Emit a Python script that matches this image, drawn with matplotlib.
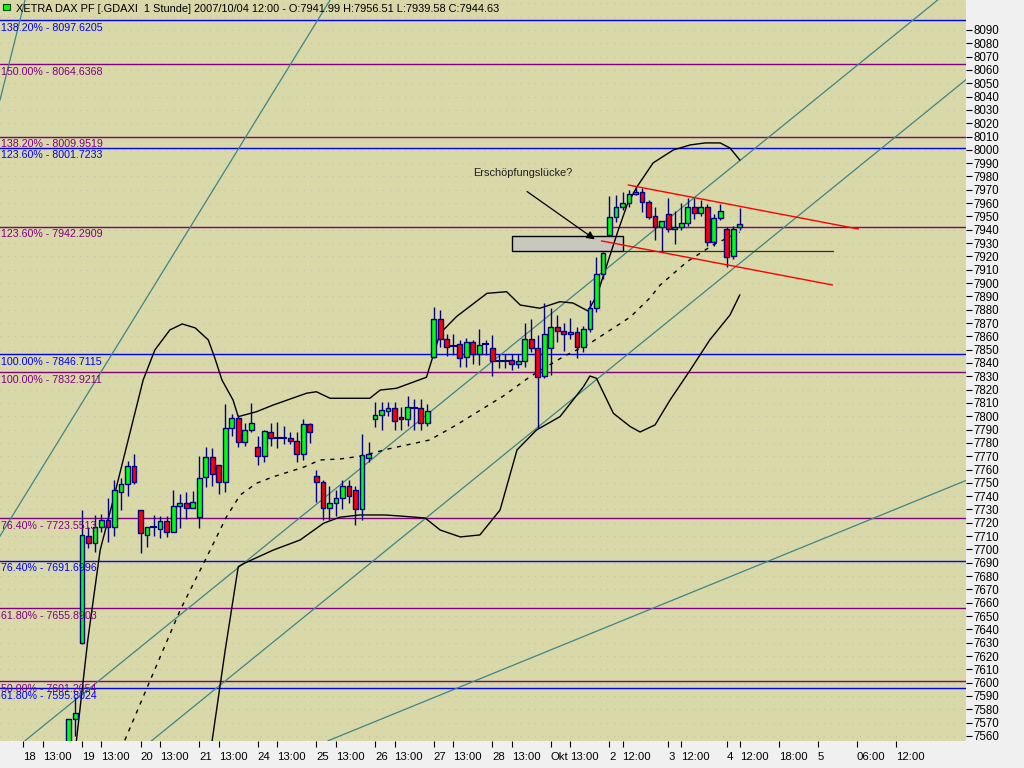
import matplotlib
matplotlib.use('Agg')
import matplotlib.pyplot as plt
from matplotlib.patches import Rectangle

plt.rcParams['font.family'] = ['Liberation Sans', 'DejaVu Sans']

# ---------------- data (bar index: 0 = 18 Sep 10:00, hourly bars, 9 per day) -------------
first_bar = 7
opens = [7545, 7572.5, 7630, 7710, 7705, 7716.6, 7722, 7716.6, 7743.4, 7748.9, 7762.6,
         7729.6, 7711.1, 7716.6, 7715.4, 7721, 7713.4, 7732.7, 7734.7, 7731,
         7724, 7754.2, 7769.6, 7763.4, 7751, 7791, 7798.5, 7781, 7790,
         7777.2, 7770, 7788.4, 7784, 7784, 7783.5, 7781.5, 7771.8, 7794,
         7755.4, 7750.4, 7731, 7735, 7739, 7748, 7745, 7730, 7769,
         7797.7, 7801, 7804.2, 7806, 7799.5, 7797.7, 7806, 7806, 7794.7,
         7844.3, 7872.8, 7857.8, 7852.8, 7854, 7844.3, 7855.5, 7846.5, 7854.3,
         7851, 7841.7, 7841.7, 7842.2, 7839.3, 7841.5, 7857.8, 7851, 7830.2,
         7851, 7866.8, 7864.3, 7861.5, 7863, 7851.8, 7865.3, 7881, 7906.6,
         7936.1, 7949.4, 7957.3, 7959.9, 7966.7, 7968.6, 7960.6, 7950.4, 7942.3,
         7951.9, 7940.6, 7942.3, 7945, 7956.9, 7952.4, 7956.9, 7930.6, 7948.6,
         7940.6, 7920.3, 7941.99]
highs = [7573, 7589, 7729.6, 7717, 7726, 7726.3, 7738.4, 7752.2, 7753.4, 7766.5, 7771.7,
         7729.6, 7717, 7726, 7724.8, 7724.8, 7744.6, 7742, 7743, 7744,
         7770, 7777, 7776, 7763.4, 7809, 7802, 7801, 7795, 7809.7,
         7785, 7790, 7794.6, 7795.6, 7793, 7788.5, 7788.5, 7797.7, 7795,
         7760, 7752, 7748, 7745, 7752, 7752, 7748, 7787, 7781,
         7811, 7811, 7811, 7811, 7807, 7815, 7813, 7813, 7809,
         7882.3, 7880, 7862, 7861.8, 7857, 7858.5, 7857.3, 7865.5, 7857,
         7861, 7847, 7847, 7847, 7847, 7870, 7873, 7861, 7885,
         7881, 7876, 7870, 7874, 7867, 7868, 7887, 7919.8, 7923.5,
         7965.4, 7966, 7968, 7970, 7971, 7971, 7962, 7957.3, 7946.6,
         7963.6, 7954, 7960, 7963.6, 7963.6, 7962, 7959, 7952, 7959.5,
         7942, 7943, 7956.51]
lows = [7540, 7560, 7629, 7701, 7698, 7713, 7705.4, 7710, 7729.6, 7740.5, 7749,
        7697, 7702, 7710, 7708.8, 7709, 7713.4, 7716, 7723, 7731,
        7716, 7747, 7748, 7742, 7743.4, 7785, 7776.6, 7778, 7788.4,
        7763.5, 7766, 7778, 7776, 7779, 7779, 7765.6, 7767, 7780,
        7736, 7722, 7722, 7725, 7730, 7735, 7718, 7722, 7766,
        7792, 7790, 7800, 7790, 7790, 7793, 7790, 7790, 7793,
        7844, 7852, 7845, 7846, 7837, 7837, 7839, 7838.5, 7846,
        7830, 7836, 7836, 7835, 7836, 7837, 7848, 7791, 7829,
        7831, 7856, 7849, 7858, 7844, 7848, 7863, 7878, 7903,
        7936, 7946, 7955, 7957, 7966, 7953, 7948, 7932, 7924.3,
        7938, 7929.3, 7940, 7943, 7948, 7950, 7928, 7928, 7947,
        7912.3, 7918, 7939.58]
closes = [7572.5, 7577, 7711, 7705, 7717, 7722, 7716.6, 7744.6, 7748.9, 7762.6, 7751,
          7712.1, 7716.6, 7716.9, 7721, 7713.4, 7732.6, 7734.7, 7731, 7735.5,
          7753.4, 7769.6, 7756.7, 7751, 7791, 7798.5, 7780.5, 7790, 7794.8,
          7770, 7789, 7783.5, 7784.2, 7784.2, 7781.5, 7771.8, 7794, 7788,
          7750.4, 7731, 7735, 7739, 7748, 7740, 7730, 7771, 7772,
          7801, 7804.7, 7806, 7796.7, 7797.7, 7806.7, 7806.3, 7795.2, 7804.2,
          7872.8, 7857.8, 7852.2, 7853.1, 7843.5, 7855.5, 7846.5, 7853.5, 7854.6,
          7841.7, 7842, 7842, 7839.3, 7841.5, 7857.8, 7851, 7829.3, 7861.5,
          7866.8, 7864.3, 7861.5, 7863, 7851.8, 7865.3, 7881, 7906.6, 7922.4,
          7949.4, 7957.3, 7959.9, 7966.7, 7968.6, 7961, 7949.8, 7942.3, 7946.6,
          7940.6, 7942.3, 7945, 7956.9, 7952.4, 7956.9, 7930.6, 7948.6, 7954.3,
          7919.8, 7940.6, 7944.63]

# Bollinger bands (bar index, value)
upper_x = [8.0, 9.9, 11.8, 13.8, 16.1, 18.4, 20.2, 22.5, 24.4, 26.4, 28.4, 29.4, 30.5, 32.2, 33.0,
           35.8, 38.4, 43.5, 45.0, 47.1, 53.2, 54.8, 57.3, 61.9, 62.4, 64.0, 66.5, 71.2, 74.2,
           76.3, 79.3, 82.4, 84.4, 86.7, 88.1, 89.6, 91.2, 92.7, 94.2, 96.7, 99.8, 102.4,
           104.7, 107.0, 108.5, 110.0]
upper_v = [7550, 7632, 7699.6, 7737.1, 7782.2, 7827.2, 7849.8, 7864.8, 7869.3, 7866.3, 7857.3,
           7843.8, 7827.2, 7812.2, 7799.7, 7803.4, 7808.5, 7817.3, 7818.4, 7813.5, 7813.5, 7819.7,
           7821, 7829.3, 7837.2, 7862.3, 7874.8, 7892.3, 7893.5, 7883.5, 7881.1, 7886, 7885,
           7879, 7891, 7913.6, 7937.6, 7958.6, 7972.1, 7990.2, 7999.9, 8003.7, 8005.2, 8005.2,
           8001.4, 7992.4]
middle_x = [15.0, 19.5, 24.1, 28.7, 31.2, 33.3, 35.8, 38.4, 43.0, 45.6, 48.6, 52.0, 55.8, 62.4,
            66.5, 73.7, 77.8, 82.9, 87.0, 93.2, 96.2, 97.8, 101.9, 105.9, 110.0]
middle_v = [7550, 7602, 7654.6, 7699.6, 7724.6, 7740.9, 7749.7, 7754.6, 7761.7, 7767.2, 7767.9,
            7770.2, 7775.2, 7782.2, 7793.5, 7815.2, 7829.7, 7844.7, 7854.8, 7874.5, 7888.8,
            7898.6, 7916, 7928.6, 7938.3]
lower_x = [28.8, 31.0, 33.0, 34.0, 38.4, 42.5, 46.1, 48.6, 51.7, 55.5, 57.9, 61.7, 64.0, 67.1,
           70.1, 73.2, 75.8, 78.8, 82.4, 86.0, 87.0, 88.0, 90.6, 93.2, 94.7, 97.0, 99.3,
           102.4, 105.4, 108.5, 110.0]
lower_v = [7550, 7624.5, 7687.1, 7689.8, 7699.6, 7707.1, 7719.7, 7724.2, 7725.9, 7725.9, 7725.1,
           7723.6, 7714.6, 7709.4, 7710.9, 7729.6, 7774.7, 7789.7, 7799.7, 7822.2, 7830.2,
           7828.5, 7802.2, 7792.2, 7788.2, 7793.5, 7812.2, 7834.7, 7857.3, 7876, 7891]

# Fibonacci levels
fib_levels = [8097.6205, 8064.6368, 8009.9519, 8001.7233, 7942.2909, 7846.7115, 7832.9211,
              7723.5513, 7691.6996, 7655.8903, 7601.2054, 7595.8024]
fib_pcts = ['138.20%', '150.00%', '138.20%', '123.60%', '123.60%', '100.00%', '100.00%',
            '76.40%', '76.40%', '61.80%', '50.00%', '61.80%']
fib_kind = ['b', 'p', 'p', 'b', 'p', 'b', 'p', 'p', 'b', 'p', 'p', 'b']

# trend lines (start bar, start value, end bar, end value)
trend_lines = [(0.26, 8112.5, -3.58, 8037.4),
               (47.1, 8112.5, -3.58, 7710.1),
               (0.26, 7556.4, 140.4, 8112.5),
               (19.7, 7556.4, 144.74, 8052.7),
               (46.8, 7556.4, 144.74, 7751.8)]
red_lines = [(92.9, 7973.6, 128.2, 7940.6),
             (88.8, 7931.6, 124.2, 7898.6)]
gap_line = (92.1, 124.3, 7924.1)
gap_box = (75.1, 92.1, 7924.1, 7935.6)

# x tick labels
xtick_pos = [0, 3, 9, 12, 18, 21, 27, 30, 36, 39, 45, 48, 54, 57, 63, 66, 72, 75, 81, 84,
             90, 92, 99, 101, 108, 110, 116, 122, 128, 134]
xtick_lab = ['18', '13:00', '19', '13:00', '20', '13:00', '21', '13:00', '24', '13:00', '25',
             '13:00', '26', '13:00', '27', '13:00', '28', '13:00', 'Okt', '13:00', '2', '12:00',
             '3', '12:00', '4', '12:00', '18:00', '5', '06:00', '12:00']

title = ('XETRA DAX PF [.GDAXI  1 Stunde] 2007/10/04 12:00 - '
         'O:7941.99 H:7956.51 L:7939.58 C:7944.63')

# ---------------- drawing -------------
BG = '#D8D8A9'
PURPLE = '#800080'
BLUE = '#0000FF'
NAVY = '#000080'
TEAL = '#3F8585'

fig = plt.figure(figsize=(10.24, 7.68), dpi=100, facecolor='#F0F0F0')
ax = fig.add_axes([0, 27 / 768, 966 / 1024, 741 / 768])
ax.set_facecolor(BG)
X0, X1 = -3.58, 144.74
Y0, Y1 = 7556.2, 8112.5
ax.set_xlim(X0, X1)
ax.set_ylim(Y0, Y1)
for s in ax.spines.values():
    s.set_visible(False)

# dotted grid
for v in range(7560, 8111, 10):
    ax.axhline(v, color='#C4C4A8', lw=0.8, ls=(0, (1, 5.5)), zorder=0)

# fib lines + labels
for lev, pct, k in zip(fib_levels, fib_pcts, fib_kind):
    c = BLUE if k == 'b' else PURPLE
    ax.axhline(lev, color=c, lw=1.0, zorder=1)
    ax.annotate(f'{pct} - {lev:.4f}', xy=(0, lev), xycoords=('axes fraction', 'data'),
                xytext=(0.8, -2), textcoords='offset points', ha='left', va='top',
                color=c, fontsize=7.7, zorder=6)

# trend lines
for x0, y0, x1, y1 in trend_lines:
    ax.plot([x0, x1], [y0, y1], color=TEAL, lw=0.9, zorder=2)

# bollinger
ax.plot(upper_x, upper_v, color='black', lw=1.0, zorder=3)
ax.plot(lower_x, lower_v, color='black', lw=1.0, zorder=3)
ax.plot(middle_x, middle_v, color='black', lw=1.0, ls=(0, (3, 4)), zorder=3)

# gap box
bx0, bx1, by0, by1 = gap_box
ax.add_patch(Rectangle((bx0, by0), bx1 - bx0, by1 - by0, facecolor='#C8C8BC',
                       edgecolor='black', lw=1.0, zorder=2.5))
ax.plot([gap_line[0], gap_line[1]], [gap_line[2], gap_line[2]], color='#303030', lw=0.9, zorder=2.5)

# candles
w = 0.74
for k, (o, h, l, c) in enumerate(zip(opens, highs, lows, closes)):
    xi = first_bar + k
    ax.plot([xi, xi], [l, h], color=NAVY, lw=1.0, zorder=4, solid_capstyle='butt')
    col = '#00FF00' if c >= o else '#FF0000'
    lo, hi = min(o, c), max(o, c)
    if hi - lo < 0.6:
        ax.plot([xi - w / 2, xi + w / 2], [o, o], color=NAVY, lw=1.5, zorder=5)
    else:
        ax.add_patch(Rectangle((xi - w / 2, lo), w, hi - lo, facecolor=col,
                               edgecolor=NAVY, lw=1.0, zorder=5))

# red channel
for x0, y0, x1, y1 in red_lines:
    ax.plot([x0, x1], [y0, y1], color='#FF0000', lw=1.0, zorder=6)

# annotation
ax.annotate('', xy=(88.1, 7931.6), xytext=(77.0, 7969.9),
            arrowprops=dict(arrowstyle='-|>', color='black', lw=0.9, mutation_scale=12), zorder=7)
ax.text(69.0, 7982.6, 'Erschöpfungslücke?', fontsize=7.9, color='#202020',
        ha='left', va='center', zorder=7)

# title
ax.add_patch(Rectangle((0.0035, 0.9865), 0.0065, 0.0085, transform=ax.transAxes,
                       facecolor='#00FF00', edgecolor='#004000', lw=0.8, zorder=8))
ax.text(16 / 966, 1 - 8.5 / 741, title, transform=ax.transAxes, fontsize=7.9,
        color='black', ha='left', va='center', zorder=8)

# axes ticks
ax.yaxis.tick_right()
ax.set_yticks(list(range(7560, 8091, 10)))
ax.set_yticklabels([str(v) for v in range(7560, 8091, 10)])
ax.tick_params(axis='y', direction='out', length=4, width=0.8, pad=1.5, labelsize=8.3,
               colors='black')
ax.set_xticks(xtick_pos)
ax.set_xticklabels(xtick_lab)
ax.tick_params(axis='x', direction='out', length=4, width=0.8, pad=4, labelsize=8.2,
               colors='black')
for lab in ax.get_xticklabels():
    lab.set_ha('left')

fig.savefig('out.png', dpi=100, facecolor=fig.get_facecolor())
